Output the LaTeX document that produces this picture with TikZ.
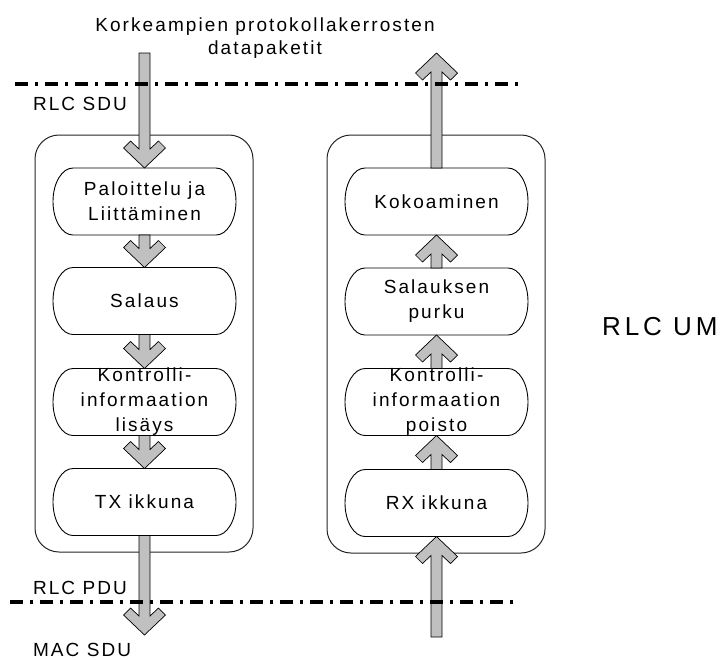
\documentclass[tikz,border=0pt]{standalone}
\usepackage{fontspec}
\setmainfont{Liberation Sans}[LetterSpace=11]
\usetikzlibrary{calc}

\definecolor{arrowgray}{RGB}{192,192,192}

\tikzset{
  labeltext/.style={font=\fontsize{19}{23}\selectfont, inner sep=0pt, outer sep=0pt},
  pilltext/.style={font=\fontsize{19}{25}\selectfont, align=center, inner sep=0pt},
  pill/.style={rectangle, minimum width=183pt, minimum height=67pt, inner sep=0pt, outer sep=0pt},
  pillline/.style={draw=black, line width=0.9pt},
  groupbox/.style={draw=black!85, line width=1pt, rounded corners=24pt},
  layerline/.style={line width=3.4pt, dash pattern=on 13pt off 7pt on 3pt off 7pt},
  arrowbody/.style={fill=arrowgray, draw=black, line width=0.7pt, line join=miter}
}

% pill outline with elliptical ends around a named pill node
\newcommand\pillframe[1]{%
  \draw[pillline] ([xshift=20pt]#1.north west) -- ([xshift=-20pt]#1.north east)
    arc[start angle=90, end angle=-90, x radius=20pt, y radius=33.5pt]
    -- ([xshift=20pt]#1.south west)
    arc[start angle=-90, end angle=-270, x radius=20pt, y radius=33.5pt] -- cycle;}

% broad grey arrow with a chevron head, from #1 (tail) to #2 (tip)
\newcommand\fatarrow[2]{%
  \path #1 coordinate (fa-s) #2 coordinate (fa-t);
  \filldraw[arrowbody] (fa-t)
    -- ($(fa-t)!20pt!(fa-s)!21pt!90:(fa-s)$)
    -- ($(fa-t)!27pt!(fa-s)!14pt!90:(fa-s)$)
    -- ($(fa-t)!19pt!(fa-s)!5.5pt!90:(fa-s)$)
    -- ($(fa-s)!5.5pt!-90:(fa-t)$)
    -- ($(fa-s)!5.5pt!90:(fa-t)$)
    -- ($(fa-t)!19pt!(fa-s)!5.5pt!-90:(fa-s)$)
    -- ($(fa-t)!27pt!(fa-s)!14pt!-90:(fa-s)$)
    -- ($(fa-t)!20pt!(fa-s)!21pt!-90:(fa-s)$)
    -- cycle;}

\begin{document}
\begin{tikzpicture}[x=1pt, y=-1pt]
\useasboundingbox (0,0) rectangle (720,659);

% group frames
\draw[groupbox] (35,135) rectangle (253,552);
\draw[groupbox] (327,135) rectangle (545,553);

% sending side
\node[pill] (p1) at (144.5,201.5) {};
\node[pill] (p2) at (144.5,301) {};
\node[pill] (p3) at (144.5,402) {};
\node[pill] (p4) at (144.5,502) {};
% receiving side
\node[pill] (q1) at (436.5,201.5) {};
\node[pill] (q2) at (436.5,301.5) {};
\node[pill] (q3) at (436.5,402) {};
\node[pill] (q4) at (436.5,503) {};

\foreach \n in {p1,p2,p3,p4,q1,q2,q3,q4} {\pillframe{\n}}

\node[pilltext] at (p1) {Paloittelu ja\\Liittäminen};
\node[pilltext] at (p2) {Salaus};
\node[pilltext] at (p3) {Kontrolli-\\informaation\\lisäys};
\node[pilltext] at (p4) {TX ikkuna};
\node[pilltext] at (q1) {Kokoaminen};
\node[pilltext] at (q2) {Salauksen\\purku};
\node[pilltext] at (q3) {Kontrolli-\\informaation\\poisto};
\node[pilltext] at (q4) {RX ikkuna};

% free ends of the outer arrows
\coordinate (inTop) at (144.5,53);
\coordinate (outBot) at (144.5,635);
\coordinate (inBot) at (436.5,637);
\coordinate (outTop) at (436.5,53);

% arrows
\fatarrow{(inTop)}{(p1.north)}
\fatarrow{(p1.south)}{(p2.north)}
\fatarrow{(p2.south)}{(p3.north)}
\fatarrow{(p3.south)}{(p4.north)}
\fatarrow{(p4.south)}{(outBot)}
\fatarrow{(inBot)}{(q4.south)}
\fatarrow{(q4.north)}{(q3.south)}
\fatarrow{(q3.north)}{(q2.south)}
\fatarrow{(q2.north)}{(q1.south)}
\fatarrow{(q1.north)}{(outTop)}

% layer boundaries
\coordinate (lt1) at (15,84);
\coordinate (lt2) at (522,84);
\coordinate (lb1) at (10,602);
\coordinate (lb2) at (520,602);
\draw[layerline] (lt1) -- (lt2);
\draw[layerline] (lb1) -- (lb2);

% labels
\node[labeltext, align=center, anchor=north] (title) at (265,17.5) {Korkeampien protokollakerrosten\\datapaketit};
\node[labeltext, anchor=base west] (sdu) at (33,110.5) {RLC SDU};
\node[labeltext, anchor=base west] (pdu) at (33,594) {RLC PDU};
\node[labeltext, anchor=base west] (mac) at (33,656) {MAC SDU};
\node[font=\fontsize{26}{30}\selectfont\addfontfeature{LetterSpace=15}, inner sep=0pt, anchor=base west] (um) at (602,335.5) {RLC UM};
\end{tikzpicture}
\end{document}
